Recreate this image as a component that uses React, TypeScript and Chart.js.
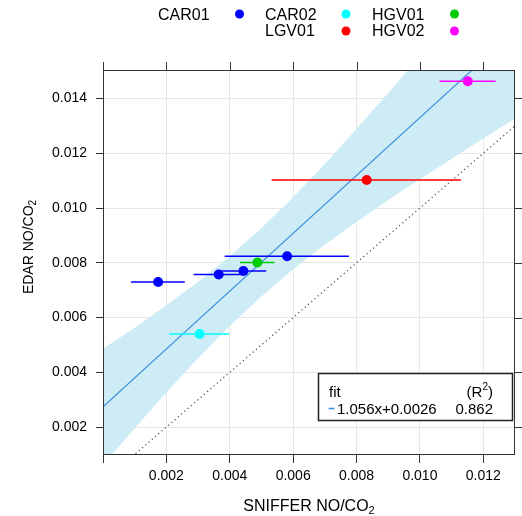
import React, { useEffect, useRef } from "react";
import { Chart, registerables } from "chart.js";

Chart.register(...registerables);

// ---------- data ----------
const groupNames = ["CAR01", "CAR02", "HGV01", "LGV01", "HGV02"];
const groupColors = ["#0000ff", "#00ffff", "#00cc00", "#ff0000", "#ff00ff"];

const pointGroup = ["CAR01", "CAR01", "CAR01", "CAR01", "CAR02", "HGV01", "LGV01", "HGV02"];
const snifferX = [0.00174, 0.00365, 0.00443, 0.00581, 0.00305, 0.00487, 0.00832, 0.01151];
const edarY = [0.0073, 0.00757, 0.0077, 0.00824, 0.0054, 0.00801, 0.01102, 0.01463];
const snifferLow = [0.00088, 0.00286, 0.00371, 0.00384, 0.00209, 0.00432, 0.00532, 0.01062];
const snifferHigh = [0.00258, 0.00444, 0.00515, 0.00776, 0.00397, 0.00541, 0.0113, 0.01239];

// fitted line (as drawn) and its legend text
const fitX = [0, 0.013];
const fitY = [0.00274, 0.01647];
const fitLabel = "1.056x+0.0026";
const fitR2 = "0.862";

// 1:1 reference line
const oneX = [0, 0.015];
const oneY = [0, 0.015];

// confidence band of the fit
const bandX = [0, 0.001, 0.002, 0.003, 0.004, 0.005, 0.006, 0.007, 0.008, 0.009, 0.01, 0.011, 0.012, 0.013];
const bandLow = [0.00062, 0.00196, 0.00326, 0.00451, 0.00569, 0.00677, 0.00776, 0.00866, 0.00949, 0.01029, 0.01105, 0.0118, 0.01254, 0.01327];
const bandHigh = [0.00486, 0.00563, 0.00645, 0.00731, 0.00824, 0.00927, 0.01039, 0.01161, 0.01289, 0.0142, 0.01555, 0.01691, 0.01828, 0.01967];

// axes
const xTicks = [0, 0.002, 0.004, 0.006, 0.008, 0.01, 0.012];
const yTicks = [0.002, 0.004, 0.006, 0.008, 0.01, 0.012, 0.014];
const xRange = [0, 0.013];
const yRange = [0.00098, 0.01504];
const xTitle = "SNIFFER NO/CO";
const yTitle = "EDAR NO/CO";
const titleSub = "2";

const FONT = '"Liberation Sans", Arial, Helvetica, sans-serif';
const FIT_COLOR = "#3f8fe0";
const BAND_COLOR = "#cdecf5";

const colorOf = (g: string) => groupColors[groupNames.indexOf(g)];

const overlay = {
  id: "overlay",
  afterDraw(chart: any) {
    const { ctx, chartArea: a, scales } = chart;
    const xs = scales.x;
    const ys = scales.y;
    ctx.save();
    // frame
    ctx.strokeStyle = "#333";
    ctx.lineWidth = 1;
    ctx.strokeRect(a.left + 0.5, a.top + 0.5, a.right - a.left - 1, a.bottom - a.top - 1);
    // top & right tick marks
    ctx.beginPath();
    for (const v of xTicks) {
      const px = Math.round(xs.getPixelForValue(v)) + 0.5;
      ctx.moveTo(px, a.top);
      ctx.lineTo(px, a.top - 8);
    }
    for (const v of yTicks) {
      const py = Math.round(ys.getPixelForValue(v)) + 0.5;
      ctx.moveTo(a.right, py);
      ctx.lineTo(a.right + 8, py);
    }
    ctx.stroke();

    // group legend
    ctx.fillStyle = "#000";
    ctx.font = `16px ${FONT}`;
    ctx.textBaseline = "alphabetic";
    ctx.textAlign = "left";
    const legendPos: Record<string, [number, number, number, number]> = {
      CAR01: [158, 20, 239.5, 14],
      CAR02: [265, 20, 346, 14],
      HGV01: [372, 20, 454.5, 14],
      LGV01: [265, 36, 346, 31],
      HGV02: [372, 36, 454.5, 31],
    };
    groupNames.forEach((g, i) => {
      const [tx, ty, dx, dy] = legendPos[g];
      ctx.fillStyle = "#000";
      ctx.fillText(g, tx, ty);
      ctx.fillStyle = groupColors[i];
      ctx.beginPath();
      ctx.arc(dx, dy, 4.5, 0, Math.PI * 2);
      ctx.fill();
    });

    // x title
    ctx.fillStyle = "#000";
    ctx.font = `16px ${FONT}`;
    const wMain = ctx.measureText(xTitle).width;
    ctx.font = `11px ${FONT}`;
    const wSub = ctx.measureText(titleSub).width;
    const cx = (a.left + a.right) / 2;
    const x0 = cx - (wMain + wSub) / 2;
    ctx.font = `16px ${FONT}`;
    ctx.fillText(xTitle, x0, 511);
    ctx.font = `11px ${FONT}`;
    ctx.fillText(titleSub, x0 + wMain, 514);

    // y title (rotated)
    ctx.save();
    ctx.translate(33, 247);
    ctx.rotate(-Math.PI / 2);
    ctx.font = `14px ${FONT}`;
    const wy = ctx.measureText(yTitle).width;
    ctx.font = `10px ${FONT}`;
    const wys = ctx.measureText(titleSub).width;
    const y0 = -(wy + wys) / 2;
    ctx.font = `14px ${FONT}`;
    ctx.fillText(yTitle, y0, 0);
    ctx.font = `10px ${FONT}`;
    ctx.fillText(titleSub, y0 + wy, 3);
    ctx.restore();

    // fit legend box
    ctx.fillStyle = "#fff";
    ctx.fillRect(318.5, 373.5, 194, 47);
    ctx.strokeStyle = "#222";
    ctx.lineWidth = 1.5;
    ctx.strokeRect(318.5, 373.5, 194, 47);
    ctx.fillStyle = "#000";
    ctx.font = `15px ${FONT}`;
    ctx.textAlign = "left";
    ctx.fillText("fit", 329, 397);
    // (R^2) right aligned at 493
    const wClose = ctx.measureText(")").width;
    ctx.font = `10px ${FONT}`;
    const wSup = ctx.measureText("2").width;
    ctx.font = `15px ${FONT}`;
    const wOpen = ctx.measureText("(R").width;
    const rStart = 493 - wClose - wSup - wOpen;
    ctx.fillText("(R", rStart, 397);
    ctx.font = `10px ${FONT}`;
    ctx.fillText("2", rStart + wOpen, 390);
    ctx.font = `15px ${FONT}`;
    ctx.fillText(")", rStart + wOpen + wSup, 397);
    // row 2
    ctx.strokeStyle = FIT_COLOR;
    ctx.lineWidth = 1.5;
    ctx.beginPath();
    ctx.moveTo(328.5, 408.5);
    ctx.lineTo(334.5, 408.5);
    ctx.stroke();
    ctx.fillText(fitLabel, 337, 413.5);
    ctx.textAlign = "right";
    ctx.fillText(fitR2, 493, 413.5);
    ctx.restore();
  },
};

export default function App() {
  const ref = useRef<HTMLCanvasElement>(null);

  useEffect(() => {
    const datasets: any[] = [];
    datasets.push({
      type: "line",
      data: bandX.map((x, i) => ({ x, y: bandLow[i] })),
      borderWidth: 0,
      pointRadius: 0,
      fill: false,
      order: 10,
    });
    datasets.push({
      type: "line",
      data: bandX.map((x, i) => ({ x, y: bandHigh[i] })),
      borderWidth: 0,
      pointRadius: 0,
      fill: "-1",
      backgroundColor: BAND_COLOR,
      order: 10,
    });
    datasets.push({
      type: "line",
      data: fitX.map((x, i) => ({ x, y: fitY[i] })),
      borderColor: FIT_COLOR,
      borderWidth: 1.2,
      pointRadius: 0,
      fill: false,
      order: 9,
    });
    datasets.push({
      type: "line",
      data: oneX.map((x, i) => ({ x, y: oneY[i] })),
      borderColor: "#555",
      borderWidth: 1.2,
      borderDash: [1.3, 3],
      pointRadius: 0,
      fill: false,
      order: 8,
    });
    snifferX.forEach((_, i) => {
      datasets.push({
        type: "line",
        data: [
          { x: snifferLow[i], y: edarY[i] },
          { x: snifferHigh[i], y: edarY[i] },
        ],
        borderColor: colorOf(pointGroup[i]),
        borderWidth: 1.5,
        pointRadius: 0,
        fill: false,
        order: 5,
      });
    });
    groupNames.forEach((g, gi) => {
      const pts = snifferX
        .map((x, i) => ({ x, y: edarY[i], g: pointGroup[i] }))
        .filter((p) => p.g === g)
        .map((p) => ({ x: p.x, y: p.y }));
      datasets.push({
        type: "scatter",
        label: g,
        data: pts,
        backgroundColor: groupColors[gi],
        borderWidth: 0,
        pointRadius: 5,
        order: 1,
      });
    });

    const tickFont = { family: FONT, size: 14 };
    const chart = new Chart(ref.current as HTMLCanvasElement, {
      type: "scatter",
      data: { datasets },
      options: {
        animation: false,
        responsive: false,
        devicePixelRatio: 1,
        events: [],
        layout: { padding: { top: 70, right: 7, left: 0, bottom: 0 } },
        plugins: { legend: { display: false }, tooltip: { enabled: false } },
        scales: {
          x: {
            type: "linear",
            min: xRange[0],
            max: xRange[1],
            afterBuildTicks: (s: any) => {
              s.ticks = xTicks.map((v) => ({ value: v }));
            },
            afterFit: (s: any) => {
              s.height = 61;
            },
            ticks: {
              autoSkip: false,
              maxRotation: 0,
              padding: 5,
              color: "#000",
              font: tickFont,
              callback: (v: any) => (Number(v) === 0 ? "" : Number(v).toFixed(3)),
            },
            grid: { color: "#e6e6e6", tickColor: "#333", tickLength: 8, lineWidth: 1 },
            border: { display: false },
          },
          y: {
            type: "linear",
            min: yRange[0],
            max: yRange[1],
            afterBuildTicks: (s: any) => {
              s.ticks = yTicks.map((v) => ({ value: v }));
            },
            afterFit: (s: any) => {
              s.width = 103;
            },
            ticks: {
              autoSkip: false,
              padding: 9,
              color: "#000",
              font: tickFont,
              callback: (v: any) => Number(v).toFixed(3),
            },
            grid: { color: "#e6e6e6", tickColor: "#333", tickLength: 7, lineWidth: 1 },
            border: { display: false },
          },
        },
      },
      plugins: [overlay],
    } as any);
    return () => chart.destroy();
  }, []);

  return (
    <div style={{ position: "fixed", left: 0, top: 0, width: 522, height: 516, background: "#fff" }}>
      <canvas ref={ref} width={522} height={516} style={{ display: "block", width: 522, height: 516 }} />
    </div>
  );
}
